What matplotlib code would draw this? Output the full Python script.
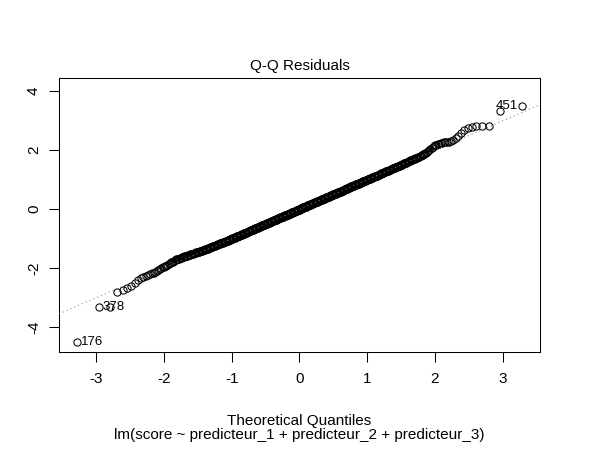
import matplotlib
matplotlib.use("Agg")
import matplotlib.pyplot as plt
import numpy as np
from statistics import NormalDist

# standardized residuals, in hundredths (sorted)
resid_low = [
    -449, -332, -330, -279, -272, -268, -259, -251, -241, -234, -228, -225, -222, -219,
    -217, -215, -212, -209,
    -206, -203, -200, -197, -195,
    -193, -191, -188, -185, -182, -180,
    -179, -177, -175, -173, -171, -170, -169,
    -168, -167, -166, -165, -164, -163, -162, -161, -160,
    -160, -159, -158, -157, -156, -155, -154, -154, -153, -152,
    -152, -151, -150, -150, -149, -148, -148, -147, -146, -146, -145, -145,
    -145, -144, -144, -143, -142, -142, -141, -140, -140, -139, -139, -138, -137, -137,
    -136, -136, -135, -134, -134, -133, -133, -132, -131, -131, -130, -130, -129, -129, -128, -128,
    -128, -127, -126, -126, -125, -125, -124, -124, -123, -123, -122, -122, -121, -121, -120, -120, -119, -119,
    -119, -118, -118, -117, -117, -116, -116, -115, -115, -114, -114, -114, -113, -113, -112, -112, -111, -111, -111, -110, -110,
    -110, -109, -109, -108, -108, -107, -107, -106, -106, -105, -105, -105, -104, -104, -103, -103, -102, -102, -101, -101, -101, -100, -100,
    -100, -99, -99, -98, -98, -98, -97, -97, -96, -96, -96, -95, -95, -94, -94, -94, -93, -93, -92, -92, -92, -91, -91, -90, -90,
    -90, -89, -89, -89, -88, -88, -88, -87, -87, -87, -86, -86, -86, -85, -85, -85, -84, -84, -84, -83, -83, -83, -82, -82, -82, -81, -81, -80,
    -80, -80, -79, -79, -79, -78, -78, -78, -77, -77, -77, -76, -76, -76, -75, -75, -75, -74, -74, -74, -73, -73, -73, -72, -72, -72, -71, -71, -71, -70,
    -70, -70, -69, -69, -69, -68, -68, -68, -67, -67, -67, -66, -66, -66, -65, -65, -65, -64, -64, -64, -63, -63, -63, -62, -62, -62, -61, -61, -61, -60, -60, -60,
    -60, -59, -59, -59, -58, -58, -58, -58, -57, -57, -57, -56, -56, -56, -56, -55, -55, -55, -54, -54, -54, -54, -53, -53, -53, -52, -52, -52, -52, -51, -51, -51, -50, -50, -50,
    -50, -49, -49, -49, -49, -48, -48, -48, -47, -47, -47, -47, -46, -46, -46, -45, -45, -45, -45, -44, -44, -44, -44, -43, -43, -43, -42, -42, -42, -42, -41, -41, -41, -40, -40, -40,
    -40, -39, -39, -39, -39, -38, -38, -38, -38, -37, -37, -37, -36, -36, -36, -36, -35, -35, -35, -35, -34, -34, -34, -34, -33, -33, -33, -32, -32, -32, -32, -31, -31, -31, -31, -30, -30,
    -30, -30, -29, -29, -29, -29, -28, -28, -28, -28, -27, -27, -27, -27, -26, -26, -26, -26, -25, -25, -25, -25, -24, -24, -24, -24, -23, -23, -23, -23, -22, -22, -22, -22, -21, -21, -21, -21, -20,
    -20, -20, -20, -19, -19, -19, -19, -18, -18, -18, -18, -17, -17, -17, -17, -16, -16, -16, -16, -15, -15, -15, -15, -14, -14, -14, -14, -13, -13, -13, -13, -12, -12, -12, -12, -11, -11, -11, -10,
    -10, -10, -10, -9, -9, -9, -9, -8, -8, -8, -8, -7, -7, -7, -7, -6, -6, -6, -6, -5, -5, -5, -5, -4, -4, -4, -4, -3, -3, -3, -3, -2, -2, -2, -2, -1, -1, -1, -1, 0,
]

resid_high = [
    0, 1, 1, 1, 1, 2, 2, 2, 2, 3, 3, 3, 3, 4, 4, 4, 4, 5, 5, 5, 5, 6, 6, 6, 6, 7, 7, 7, 7, 8, 8, 8, 8, 9, 9, 9, 9, 10, 10, 10,
    10, 11, 11, 11, 12, 12, 12, 12, 13, 13, 13, 13, 14, 14, 14, 14, 15, 15, 15, 15, 16, 16, 16, 16, 17, 17, 17, 17, 18, 18, 18, 18, 19, 19, 19, 19, 20, 20, 20,
    20, 21, 21, 21, 21, 22, 22, 22, 22, 23, 23, 23, 23, 24, 24, 24, 24, 25, 25, 25, 25, 26, 26, 26, 26, 27, 27, 27, 27, 28, 28, 28, 28, 29, 29, 29, 29, 30, 30,
    30, 30, 31, 31, 31, 31, 32, 32, 32, 32, 33, 33, 33, 34, 34, 34, 34, 35, 35, 35, 35, 36, 36, 36, 36, 37, 37, 37, 38, 38, 38, 38, 39, 39, 39, 39, 40,
    40, 40, 40, 41, 41, 41, 42, 42, 42, 42, 43, 43, 43, 44, 44, 44, 44, 45, 45, 45, 45, 46, 46, 46, 47, 47, 47, 47, 48, 48, 48, 49, 49, 49, 49, 50,
    50, 50, 50, 51, 51, 51, 52, 52, 52, 52, 53, 53, 53, 54, 54, 54, 54, 55, 55, 55, 56, 56, 56, 56, 57, 57, 57, 58, 58, 58, 58, 59, 59, 59, 60,
    60, 60, 60, 61, 61, 61, 62, 62, 62, 63, 63, 63, 64, 64, 64, 65, 65, 65, 66, 66, 66, 67, 67, 67, 68, 68, 68, 69, 69, 69, 70, 70,
    70, 71, 71, 71, 72, 72, 72, 73, 73, 73, 74, 74, 74, 75, 75, 75, 76, 76, 76, 77, 77, 77, 78, 78, 78, 79, 79, 79, 80, 80,
    80, 81, 81, 82, 82, 82, 83, 83, 83, 84, 84, 84, 85, 85, 85, 86, 86, 86, 87, 87, 87, 88, 88, 88, 89, 89, 89, 90,
    90, 90, 91, 91, 92, 92, 92, 93, 93, 94, 94, 94, 95, 95, 96, 96, 96, 97, 97, 98, 98, 98, 99, 99, 100,
    100, 100, 101, 101, 101, 102, 102, 103, 103, 104, 104, 105, 105, 105, 106, 106, 107, 107, 108, 108, 109, 109, 110,
    110, 110, 111, 111, 112, 112, 113, 113, 114, 114, 114, 115, 115, 116, 116, 117, 117, 118, 118, 119, 119,
    120, 121, 121, 122, 122, 123, 124, 124, 125, 125, 126, 126, 127, 128, 128, 129, 129, 130,
    130, 131, 131, 132, 133, 133, 134, 134, 135, 136, 136, 137, 138, 138, 139, 140,
    140, 141, 142, 142, 143, 144, 144, 145, 146, 146, 147, 148, 149, 150,
    150, 151, 152, 153, 154, 155, 155, 156, 157, 158, 159, 160,
    161, 162, 163, 164, 165, 166, 167, 168, 169, 170,
    171, 172, 173, 175, 176, 177, 178, 180, 181,
    182, 184, 186, 188, 190, 192, 194,
    197, 200, 204, 208, 211, 214,
    216, 218, 220, 221, 223,
    225, 226, 227, 228,
    229, 230, 233,
    240, 248, 258,
    267, 275, 280, 282, 283, 283, 331, 350,
]

# ids of the 3 most extreme residuals: lowest, second lowest, highest
id_labels = ["176", "378", "451"]

title = "Q-Q Residuals"
xlabel = "Theoretical Quantiles"
caption = "lm(score ~ predicteur_1 + predicteur_2 + predicteur_3)"

plt.rcParams['font.family'] = ['Liberation Sans', 'DejaVu Sans']
plt.rcParams['axes.unicode_minus'] = False

rs = np.sort(np.array(resid_low + resid_high) / 100.0)
n = len(rs)
nd = NormalDist()
theo = np.array([nd.inv_cdf((i - 0.5) / n) for i in range(1, n + 1)])

fig = plt.figure(figsize=(6, 4.5), dpi=100)
ax = fig.add_axes([59 / 600, 98 / 450, 481 / 600, 274 / 450])

ax.plot(theo, rs, 'o', mfc='none', mec='black', ms=5.2, mew=0.75, zorder=2)

# qqline through the quartiles
yq = np.quantile(rs, [0.25, 0.75])
xq = [nd.inv_cdf(0.25), nd.inv_cdf(0.75)]
slope = (yq[1] - yq[0]) / (xq[1] - xq[0])
ax.axline((xq[0], yq[0]), slope=slope, color='#7f7f7f', lw=0.75,
          ls=(0, (1, 3)), zorder=3)

# limits like R's plot.lm
x0, x1 = theo.min(), theo.max()
dx = 0.04 * (x1 - x0)
ax.set_xlim(x0 - dx, x1 + dx)
y0, y1 = rs.min(), rs.max()
y1 = y1 + 0.075 * (y1 - y0)
dy = 0.04 * (y1 - y0)
ax.set_ylim(y0 - dy, y1 + dy)

lab_size = 9.5
ax.annotate(id_labels[0], (theo[0], rs[0]), xytext=(3, 0), textcoords='offset points',
            ha='left', va='center', fontsize=lab_size)
ax.annotate(id_labels[1], (theo[1], rs[1]), xytext=(3, 0), textcoords='offset points',
            ha='left', va='center', fontsize=lab_size)
ax.annotate(id_labels[2], (theo[-1], rs[-1]), xytext=(-3, 0), textcoords='offset points',
            ha='right', va='center', fontsize=lab_size)

ax.set_xticks([-3, -2, -1, 0, 1, 2, 3])
ax.set_yticks([-4, -2, 0, 2, 4])
ax.tick_params(direction='out', length=7, width=0.75, labelsize=11)
ax.tick_params(axis='x', pad=7.5)
ax.tick_params(axis='y', pad=6, labelrotation=90)
for lbl in ax.get_yticklabels():
    lbl.set_va('center')
for s in ax.spines.values():
    s.set_linewidth(0.75)

fig.text(299.5 / 600, 1 - 70 / 450, title, ha='center', va='baseline', fontsize=11)
fig.text(299.5 / 600, 1 - 425 / 450, xlabel, ha='center', va='baseline', fontsize=11)
fig.text(299.5 / 600, 1 - 438.5 / 450, caption, ha='center', va='baseline', fontsize=11)

fig.savefig("out.png", dpi=100)
